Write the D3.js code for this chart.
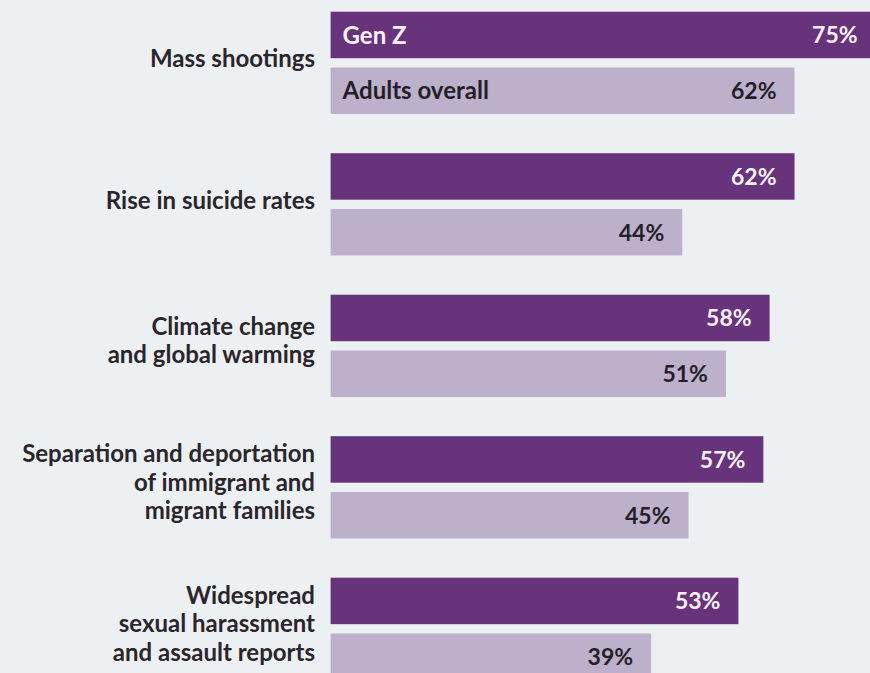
<!DOCTYPE html>
<html>
<head>
<meta charset="utf-8">
<script src="https://cdn.jsdelivr.net/npm/d3@7"></script>
<style>
    html, body { margin: 0; padding: 0; background: #edf0f2; }
    svg { display: block; }
</style>
</head>
<body>
<svg id="chart" width="870" height="673"></svg>
<script>
const categories = [
    "Mass shootings",
    "Rise in suicide rates",
    "Climate change\nand global warming",
    "Separation and deportation\nof immigrant and\nmigrant families",
    "Widespread\nsexual harassment\nand assault reports"
];
const series_names = ["Gen Z", "Adults overall"];
const gen_z = [75, 62, 58, 57, 53];
const adults_overall = [62, 44, 51, 45, 39];

class BarChart {
    constructor(svg) {
        this.svg = svg;
        this.width = 870;
        this.height = 673;
        this.colors = { "Gen Z": "#67337a", "Adults overall": "#bdb0ca" };
        this.text_colors = { "Gen Z": "#f8f1fa", "Adults overall": "#241f27" };
        this.font = "Lato, 'Open Sans', sans-serif";

        // bars start a bit left of the zero point, so the domain starts below 0
        this.x = d3.scaleLinear().domain([-12.4, 75]).range([330.6, 875.6]);
        this.y = d3.scaleBand().domain(categories).range([11.7, 680]).paddingInner(0.277);
        this.y_inner = d3.scaleBand().domain(series_names).range([0, this.y.bandwidth()]).paddingInner(0.167);

        this.rows = categories.map((category, i) => ({
            category: category,
            values: [
                { series: series_names[0], value: gen_z[i] },
                { series: series_names[1], value: adults_overall[i] }
            ]
        }));
    }

    renderLabels = () => {
        const line_height = 28.5;
        const labels = this.svg.append("g")
            .selectAll("text")
            .data(this.rows)
            .join("text")
            .attr("text-anchor", "end")
            .attr("font-family", this.font)
            .attr("font-weight", 700)
            .attr("font-size", 24)
            .attr("fill", "#2a262c")
            .attr("transform", (d) => {
                const lines = d.category.split("\n").length;
                const center = this.y(d.category) + this.y.bandwidth() / 2 - (lines > 1 ? 5 : 4);
                return `translate(315,${center - (lines - 1) * line_height / 2})`;
            });
        labels.selectAll("tspan")
            .data((d) => d.category.split("\n"))
            .join("tspan")
            .attr("x", 0)
            .attr("y", (d, i) => i * line_height)
            .attr("dy", "0.35em")
            .text((d) => d);
    };

    renderBars = () => {
        const groups = this.svg.append("g")
            .selectAll("g")
            .data(this.rows)
            .join("g")
            .attr("transform", (d) => `translate(0,${this.y(d.category)})`);

        const x0 = this.x(this.x.domain()[0]);
        groups.selectAll("rect")
            .data((d) => d.values)
            .join("rect")
            .attr("x", x0)
            .attr("y", (d) => this.y_inner(d.series))
            .attr("width", (d) => this.x(d.value) - x0)
            .attr("height", this.y_inner.bandwidth())
            .attr("fill", (d) => this.colors[d.series]);

        groups.selectAll("text.value")
            .data((d) => d.values)
            .join("text")
            .attr("class", "value")
            .attr("x", (d) => this.x(d.value) - 18)
            .attr("y", (d) => this.y_inner(d.series) + this.y_inner.bandwidth() / 2)
            .attr("dy", "0.36em")
            .attr("text-anchor", "end")
            .attr("font-family", this.font)
            .attr("font-weight", 700)
            .attr("font-size", 23)
            .attr("fill", (d) => this.text_colors[d.series])
            .text((d) => d.value + "%");

        // series names only inside the first group
        groups.filter((d, i) => i === 0)
            .selectAll("text.series")
            .data((d) => d.values)
            .join("text")
            .attr("class", "series")
            .attr("x", x0 + 12)
            .attr("y", (d) => this.y_inner(d.series) + this.y_inner.bandwidth() / 2)
            .attr("dy", "0.36em")
            .attr("font-family", this.font)
            .attr("font-weight", 700)
            .attr("font-size", 24)
            .attr("fill", (d) => this.text_colors[d.series])
            .text((d) => d.series);
    };

    render = () => {
        this.svg.append("rect")
            .attr("width", this.width)
            .attr("height", this.height)
            .attr("fill", "#edf0f2");
        this.renderLabels();
        this.renderBars();
    };
}

const chart = new BarChart(d3.select("#chart"));
chart.render();
</script>
</body>
</html>
